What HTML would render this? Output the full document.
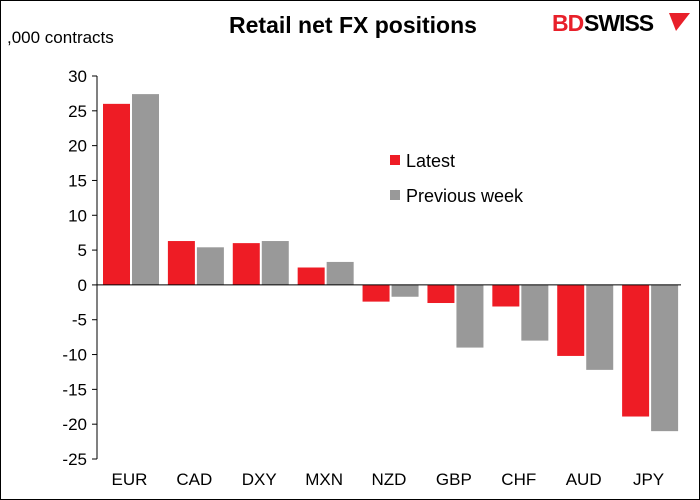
<!DOCTYPE html>
<html><head><meta charset="utf-8"><style>
body{margin:0;background:#fff;font-family:"Liberation Sans",Arial,sans-serif}
#wrap{position:relative;width:698px;height:498px;border:1px solid #000;overflow:hidden}
</style></head><body>
<div id="wrap">
<svg width="698" height="498">
<text x="352" y="32" text-anchor="middle" font-size="23" font-weight="bold">Retail net FX positions</text>
<text x="6" y="42" font-size="17">,000 contracts</text>
<g>
<text x="551" y="30" font-size="23" font-weight="bold" fill="#e8202a" letter-spacing="-1">BD</text>
<text x="583" y="30" font-size="23" font-weight="bold" fill="#000" letter-spacing="-1">SWISS</text>
<polygon points="668,12 689,12 675,30" fill="#e8202a"/>
</g>
<g id="plot"></g>
<g>
<rect x="389" y="154" width="10" height="10" fill="#ee1c25"/>
<text x="405" y="166" font-size="18">Latest</text>
<rect x="389" y="189" width="10" height="10" fill="#999"/>
<text x="405" y="201" font-size="18">Previous week</text>
</g>
</svg></div>
<script>
const categories=["EUR","CAD","DXY","MXN","NZD","GBP","CHF","AUD","JPY"];
const latest=[26.0,6.3,6.0,2.5,-2.4,-2.6,-3.1,-10.2,-18.9];
const previous=[27.4,5.4,6.3,3.3,-1.7,-9.0,-8.0,-12.2,-21.0];
const ticks=[30,25,20,15,10,5,0,-5,-10,-15,-20,-25];
const NS="http://www.w3.org/2000/svg";
const g=document.getElementById('plot');
const L=96,R=680,T=75,B=458,ymax=30,ymin=-25;
const y=v=>T+(ymax-v)/(ymax-ymin)*(B-T);
const cw=(R-L)/categories.length;
const x=i=>L+i*cw;
function mk(t,a){const e=document.createElementNS(NS,t);for(const k in a)e.setAttribute(k,a[k]);g.appendChild(e);return e;}
ticks.forEach(t=>{
 const l=mk('line',{x1:L-5,x2:L,y1:y(t),y2:y(t),stroke:'#000'});
 
 
 const tx=mk('text',{x:L-10,y:y(t)+6,'text-anchor':'end','font-size':17});
 tx.textContent=t;
 
 
});
categories.forEach((c,i)=>{
 const x0=x(i)+6;
 [[latest[i],'#ee1c25','bar-latest-'],[previous[i],'#999','bar-previous-']].forEach((s,j)=>{
  const v=s[0],bx=x0+j*29;
  const r=mk('rect',{x:bx,y:Math.min(y(v),y(0)),width:27,height:Math.abs(y(v)-y(0)),fill:s[1]});
  
  
 });
 const tx=mk('text',{x:x(i)+cw/2,y:484,'text-anchor':'middle','font-size':17});
 tx.textContent=c;
 
 
});
const ya=mk('line',{x1:L,x2:L,y1:T,y2:B,stroke:'#000'});


const xa=mk('line',{x1:L,x2:R,y1:y(0),y2:y(0),stroke:'#000'});


</script>
</body></html>
